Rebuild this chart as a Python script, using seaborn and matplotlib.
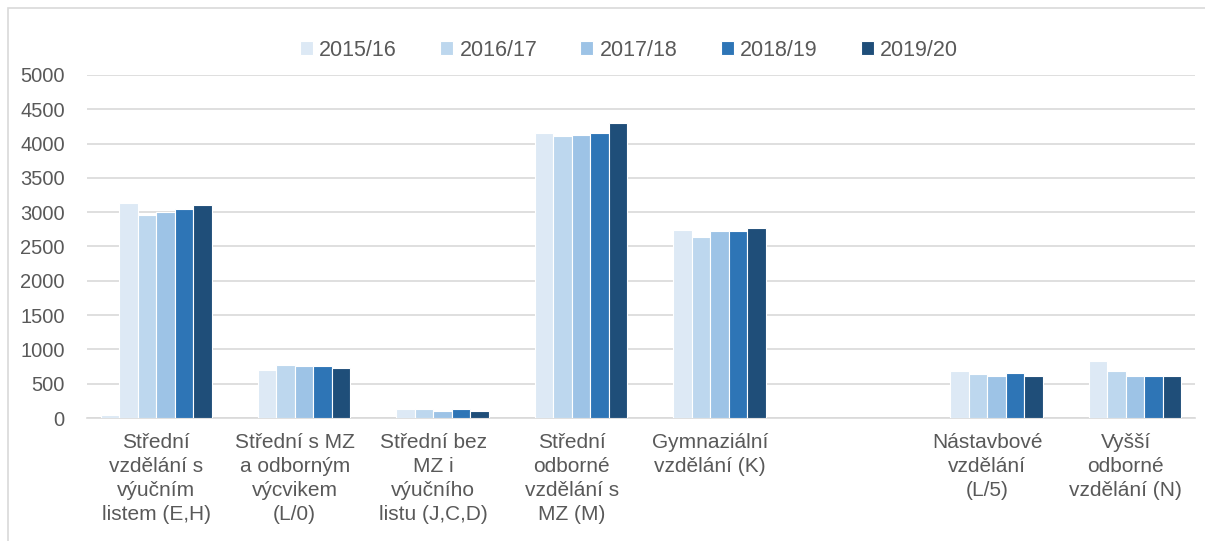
import matplotlib
matplotlib.use("Agg")
import matplotlib.pyplot as plt
import matplotlib.patches as mpatches
import numpy as np
import pandas as pd
import seaborn as sns

# kategorie (6. pozice je v originale prazdna)
kategorie = ["Střední\nvzdělání s\nvýučním\nlistem (E,H)",
             "Střední s MZ\na odborným\nvýcvikem\n(L/0)",
             "Střední bez\nMZ i\nvýučního\nlistu (J,C,D)",
             "Střední\nodborné\nvzdělání s\nMZ (M)",
             "Gymnaziální\nvzdělání (K)",
             " ",
             "Nástavbové\nvzdělání\n(L/5)",
             "Vyšší\nodborné\nvzdělání (N)"]

roky = ["2015/16", "2016/17", "2017/18", "2018/19", "2019/20"]
nan = np.nan
r_2015 = [3130, 705, 130, 4150, 2745, nan, 685, 835]
r_2016 = [2965, 778, 126, 4105, 2645, nan, 636, 684]
r_2017 = [3008, 755, 101, 4130, 2720, nan, 612, 612]
r_2018 = [3052, 755, 130, 4150, 2720, nan, 655, 612]
r_2019 = [3110, 730, 106, 4305, 2772, nan, 612, 612]
# serie bez polozky v legende (maly sloupec u prvni kategorie)
skryta = [40, nan, nan, nan, nan, nan, nan, nan]

barvy = ["#dde9f5", "#bdd7ee", "#9dc3e6", "#2e75b6", "#1f4e79"]

rady = ["_skryta"] + roky
hodnoty = [skryta, r_2015, r_2016, r_2017, r_2018, r_2019]
df = pd.DataFrame([(k, r, v) for r, vals in zip(rady, hodnoty)
                   for k, v in zip(kategorie, vals)],
                  columns=["kat", "rok", "pocet"])

sns.set_style("white")
plt.rcParams['font.family'] = ['Liberation Sans', 'DejaVu Sans']
seda = "#595959"

fig = plt.figure(figsize=(12.05, 5.41), dpi=100)
ax = fig.add_axes([87/1205, 1-418/541, (1195-87)/1205, (418-75)/541])

sns.barplot(data=df, x="kat", y="pocet", hue="rok", order=kategorie,
            hue_order=rady, palette=[barvy[0]] + barvy, width=0.8,
            saturation=1, edgecolor="white", linewidth=0.8, ax=ax, legend=True)

ax.set_ylim(0, 5000)
ax.set_xlim(-0.5, 7.5)
ax.set_yticks(range(0, 5001, 500))
ax.yaxis.grid(True, color="#d9d9d9", linewidth=1.2)
ax.set_axisbelow(True)
for s in ["top", "right", "left"]:
    ax.spines[s].set_visible(False)
ax.spines["bottom"].set_color("#d9d9d9")
ax.spines["bottom"].set_linewidth(1.2)
ax.spines["bottom"].set_zorder(0)
ax.set_xlabel("")
ax.set_ylabel("")
ax.tick_params(axis="both", length=0, colors=seda)
ax.tick_params(axis="y", labelsize=14.5, pad=16)
ax.tick_params(axis="x", labelsize=15, pad=11)
for t in ax.get_xticklabels():
    t.set_linespacing(1.32)
    t.set_verticalalignment("top")

h, l = ax.get_legend_handles_labels()
h2 = [hh for hh, ll in zip(h, l) if ll in roky]
l2 = [ll for ll in l if ll in roky]
ax.legend(h2, l2, loc="center", bbox_to_anchor=(0.522, 1-50/541),
          bbox_transform=fig.transFigure, ncol=5, frameon=False,
          fontsize=15.5, handlelength=0.6, handleheight=0.6,
          handletextpad=0.3, columnspacing=2.0, labelcolor=seda)

# ramecek grafu
fig.patches.append(mpatches.Rectangle((8/1205, -0.05), 1.2, 1-8/541+0.05,
                                      transform=fig.transFigure, fill=False,
                                      edgecolor="#d9d9d9", linewidth=1.2))

fig.savefig("out.png", dpi=100)
